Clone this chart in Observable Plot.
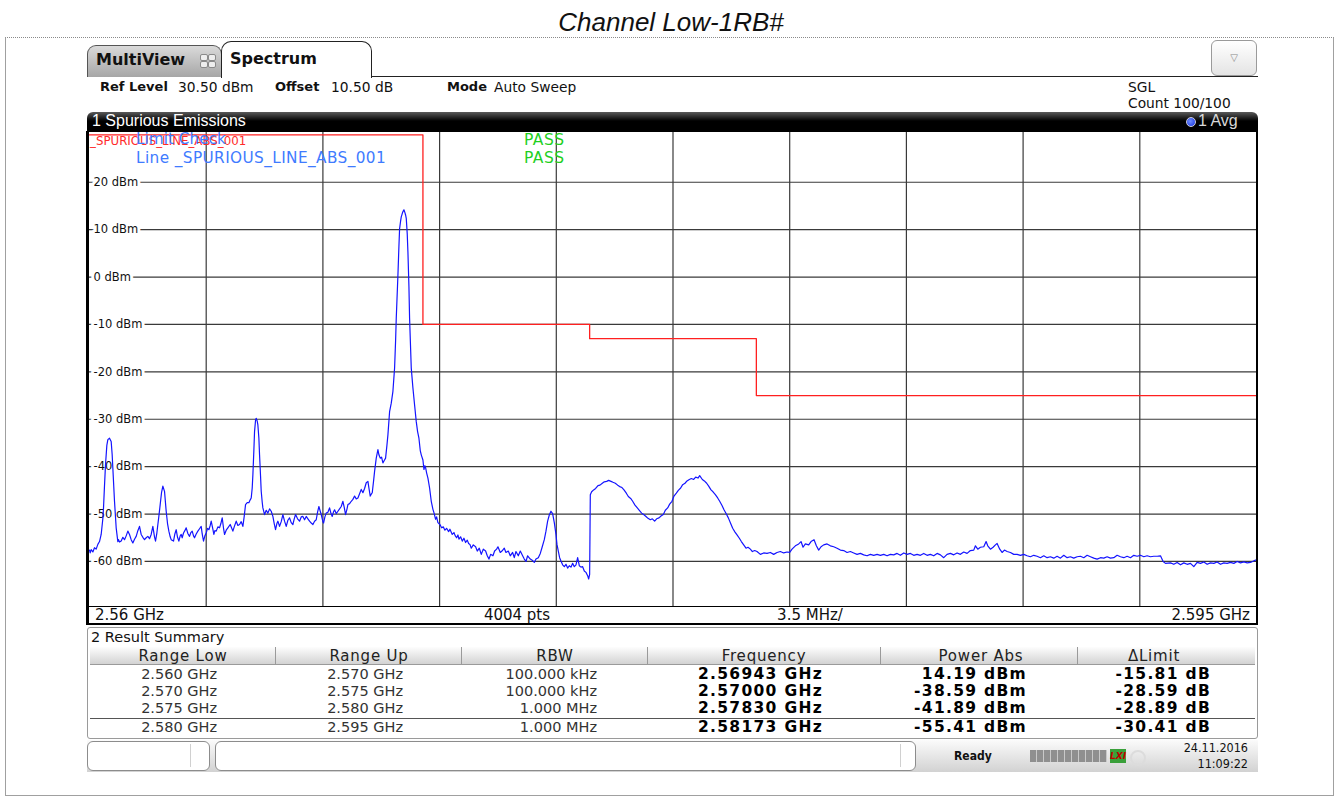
<!DOCTYPE html>
<html>
<head>
<meta charset="utf-8">
<script src="https://cdn.jsdelivr.net/npm/d3@7"></script>
<script src="https://cdn.jsdelivr.net/npm/@observablehq/plot@0.6"></script>
<style>
  body { margin: 0; background: #fff; width: 1338px; height: 798px; position: relative; overflow: hidden; font-family: "DejaVu Sans", sans-serif; color: #111; }
  .a { position: absolute; white-space: nowrap; }
  .t { position: absolute; white-space: nowrap; height: 20px; line-height: 20px; }
  .b { font-weight: bold; }
  .cond { font-family: "DejaVu Sans Condensed", "DejaVu Sans", sans-serif; font-stretch: condensed; }
</style>
</head>
<body>
<script>
// ---- Sweep settings -------------------------------------------------------
const sweepStartMHz = 2560;
const sweepStopMHz = 2595;
const refLevelDbm = 30.5;
const bottomLevelDbm = -69.5;

// Grid divisions (3.5 MHz/div, 10 dB/div)
const xGridMHz = [2563.5, 2567, 2570.5, 2574, 2577.5, 2581, 2584.5, 2588, 2591.5];
const yGridDbm = [20, 10, 0, -10, -20, -30, -40, -50, -60];

// Spurious limit line _SPURIOUS_LINE_ABS_001 (step per range)
const limitFreqMHz = [2560, 2570, 2570, 2575, 2575, 2580, 2580, 2595];
const limitDbm = [30, 30, -10, -10, -13, -13, -25, -25];

// Result summary per range
const rangeLow = ["2.560 GHz", "2.570 GHz", "2.575 GHz", "2.580 GHz"];
const rangeUp = ["2.570 GHz", "2.575 GHz", "2.580 GHz", "2.595 GHz"];
const rbw = ["100.000 kHz", "100.000 kHz", "1.000 MHz", "1.000 MHz"];
const peakFreqGHz = ["2.56943", "2.57000", "2.57830", "2.58173"];
const peakDbm = [14.19, -38.59, -41.89, -55.41];
const rangeLimitDbm = [30, -10, -13, -25];

// Trace 1 (Avg), [MHz, dBm], one list per measurement range
const range1Trace = [[2560.00,-57.6],[2560.02,-58.2],[2560.05,-57.5],[2560.10,-58.0],[2560.15,-57.1],[2560.20,-57.4],[2560.25,-56.4],[2560.30,-55.8],[2560.35,-54.3],[2560.40,-51.0],[2560.42,-48.7],[2560.45,-44.0],[2560.48,-39.6],[2560.52,-35.5],[2560.55,-34.3],[2560.60,-34.0],[2560.65,-34.7],[2560.68,-37.5],[2560.70,-40.3],[2560.75,-47.3],[2560.80,-52.9],[2560.85,-55.8],[2560.87,-55.4],[2560.90,-55.9],[2560.95,-55.7],[2561.00,-54.9],[2561.05,-55.4],[2561.10,-54.6],[2561.15,-53.6],[2561.20,-54.3],[2561.25,-55.4],[2561.30,-56.1],[2561.35,-55.3],[2561.40,-54.7],[2561.45,-53.5],[2561.50,-52.6],[2561.55,-54.3],[2561.60,-54.9],[2561.65,-55.4],[2561.70,-55.0],[2561.75,-54.7],[2561.80,-55.2],[2561.85,-54.3],[2561.90,-52.6],[2561.95,-54.8],[2561.98,-55.7],[2562.02,-54.0],[2562.05,-52.2],[2562.08,-50.5],[2562.12,-48.0],[2562.16,-45.5],[2562.20,-44.1],[2562.25,-45.2],[2562.30,-49.4],[2562.34,-52.0],[2562.38,-53.6],[2562.42,-54.8],[2562.45,-55.4],[2562.52,-55.7],[2562.56,-54.2],[2562.60,-53.3],[2562.64,-54.9],[2562.68,-55.7],[2562.72,-54.6],[2562.75,-54.3],[2562.78,-55.0],[2562.82,-54.0],[2562.86,-53.5],[2562.90,-52.9],[2562.95,-54.1],[2563.00,-54.7],[2563.04,-53.9],[2563.08,-53.6],[2563.12,-54.6],[2563.15,-55.0],[2563.20,-54.2],[2563.25,-53.6],[2563.30,-53.1],[2563.35,-52.6],[2563.38,-54.2],[2563.42,-55.7],[2563.46,-54.6],[2563.50,-54.0],[2563.54,-53.0],[2563.58,-53.3],[2563.62,-52.4],[2563.65,-51.5],[2563.70,-53.2],[2563.73,-54.3],[2563.76,-53.5],[2563.80,-53.6],[2563.85,-52.7],[2563.90,-52.9],[2563.94,-52.0],[2563.98,-50.8],[2564.02,-53.0],[2564.05,-54.3],[2564.10,-53.4],[2564.15,-52.9],[2564.22,-52.2],[2564.26,-52.9],[2564.30,-53.6],[2564.35,-52.5],[2564.40,-51.5],[2564.45,-52.4],[2564.50,-52.2],[2564.55,-51.6],[2564.60,-52.6],[2564.64,-50.5],[2564.68,-48.0],[2564.73,-47.6],[2564.78,-47.6],[2564.82,-47.0],[2564.85,-46.6],[2564.88,-44.5],[2564.90,-41.7],[2564.93,-36.5],[2564.95,-32.6],[2564.98,-30.2],[2565.00,-29.8],[2565.03,-30.4],[2565.05,-31.2],[2565.08,-34.0],[2565.10,-37.5],[2565.13,-42.0],[2565.15,-45.2],[2565.18,-47.5],[2565.20,-48.7],[2565.25,-50.1],[2565.30,-49.2],[2565.35,-49.8],[2565.40,-48.9],[2565.45,-49.4],[2565.50,-50.5],[2565.54,-52.0],[2565.58,-53.3],[2565.62,-52.0],[2565.65,-51.5],[2565.70,-52.6],[2565.75,-51.6],[2565.80,-50.1],[2565.85,-51.5],[2565.90,-52.6],[2565.95,-51.3],[2566.00,-50.8],[2566.05,-51.8],[2566.10,-52.2],[2566.14,-51.0],[2566.18,-50.1],[2566.24,-51.0],[2566.30,-51.5],[2566.35,-50.6],[2566.40,-50.5],[2566.45,-51.2],[2566.50,-50.5],[2566.55,-51.0],[2566.60,-51.5],[2566.65,-51.9],[2566.70,-52.2],[2566.75,-51.5],[2566.80,-51.2],[2566.84,-49.6],[2566.88,-48.4],[2566.92,-49.4],[2566.95,-50.1],[2567.00,-51.6],[2567.02,-51.9],[2567.06,-50.6],[2567.10,-49.8],[2567.15,-49.6],[2567.20,-48.7],[2567.24,-49.8],[2567.28,-50.5],[2567.32,-49.5],[2567.35,-49.1],[2567.40,-49.9],[2567.45,-49.4],[2567.50,-48.9],[2567.55,-48.4],[2567.60,-47.3],[2567.64,-48.6],[2567.68,-50.1],[2567.72,-49.0],[2567.75,-48.0],[2567.80,-47.8],[2567.85,-47.3],[2567.90,-46.9],[2567.95,-46.2],[2568.00,-46.8],[2568.05,-46.6],[2568.10,-45.7],[2568.15,-44.8],[2568.20,-45.5],[2568.25,-44.6],[2568.30,-43.4],[2568.35,-43.1],[2568.38,-44.5],[2568.42,-46.2],[2568.45,-45.8],[2568.48,-45.5],[2568.52,-43.0],[2568.55,-41.0],[2568.60,-38.2],[2568.65,-36.4],[2568.68,-37.5],[2568.72,-38.2],[2568.76,-38.0],[2568.80,-39.2],[2568.84,-38.7],[2568.88,-38.2],[2568.92,-35.5],[2568.95,-33.3],[2569.00,-28.4],[2569.05,-26.6],[2569.10,-24.1],[2569.15,-19.2],[2569.18,-13.5],[2569.20,-8.7],[2569.25,0.4],[2569.28,6.5],[2569.30,10.2],[2569.33,11.8],[2569.35,12.7],[2569.38,13.4],[2569.40,13.8],[2569.43,14.19],[2569.46,13.6],[2569.48,13.1],[2569.50,12.4],[2569.53,9.0],[2569.55,5.3],[2569.58,-2.0],[2569.60,-8.7],[2569.63,-15.0],[2569.65,-19.2],[2569.70,-23.4],[2569.75,-27.0],[2569.80,-30.5],[2569.84,-32.6],[2569.88,-34.0],[2569.92,-36.6],[2569.95,-37.5]];

const range2Trace = [[2570.00,-38.59],[2570.03,-40.6],[2570.06,-39.8],[2570.08,-40.2],[2570.11,-41.3],[2570.15,-42.4],[2570.20,-44.5],[2570.25,-47.3],[2570.30,-49.0],[2570.33,-49.7],[2570.38,-51.1],[2570.41,-50.6],[2570.45,-51.8],[2570.51,-52.2],[2570.56,-52.9],[2570.61,-52.7],[2570.66,-53.4],[2570.71,-53.0],[2570.77,-53.7],[2570.81,-53.2],[2570.88,-54.3],[2570.93,-53.9],[2570.97,-54.6],[2571.01,-55.0],[2571.05,-54.4],[2571.08,-55.3],[2571.13,-54.8],[2571.18,-55.7],[2571.23,-55.1],[2571.28,-56.0],[2571.33,-55.5],[2571.37,-56.2],[2571.41,-56.4],[2571.45,-57.2],[2571.51,-56.5],[2571.58,-56.9],[2571.63,-57.8],[2571.69,-57.2],[2571.75,-58.5],[2571.81,-57.4],[2571.88,-57.8],[2571.93,-58.8],[2571.98,-59.5],[2572.03,-58.5],[2572.10,-58.8],[2572.15,-57.8],[2572.21,-57.4],[2572.25,-56.9],[2572.32,-58.1],[2572.37,-57.8],[2572.44,-57.2],[2572.49,-58.1],[2572.56,-57.8],[2572.62,-58.8],[2572.69,-58.1],[2572.74,-59.2],[2572.79,-57.9],[2572.86,-58.8],[2572.92,-57.8],[2572.99,-58.8],[2573.04,-59.5],[2573.09,-60.0],[2573.14,-58.8],[2573.22,-59.5],[2573.29,-59.8],[2573.34,-60.2],[2573.39,-59.5],[2573.46,-59.2],[2573.52,-58.3],[2573.57,-57.1],[2573.64,-55.4],[2573.69,-53.6],[2573.74,-51.5],[2573.79,-50.2],[2573.84,-49.4],[2573.89,-49.9],[2573.94,-51.8],[2573.99,-54.3],[2574.02,-56.4],[2574.06,-57.8],[2574.10,-59.2],[2574.14,-59.9],[2574.19,-60.7],[2574.24,-61.1],[2574.29,-60.6],[2574.34,-61.4],[2574.39,-60.9],[2574.44,-61.2],[2574.49,-60.4],[2574.54,-61.1],[2574.59,-60.7],[2574.64,-59.2],[2574.69,-60.9],[2574.74,-61.2],[2574.79,-61.1],[2574.84,-62.0],[2574.89,-62.3],[2574.94,-63.0],[2574.97,-63.7],[2575.00,-62.7]];

const range3Trace = [[2575.02,-45.9],[2575.06,-45.3],[2575.12,-44.9],[2575.18,-44.6],[2575.25,-44.0],[2575.31,-43.9],[2575.38,-43.5],[2575.44,-43.2],[2575.51,-43.1],[2575.57,-42.9],[2575.64,-43.1],[2575.70,-43.3],[2575.77,-43.5],[2575.84,-43.9],[2575.90,-44.2],[2575.97,-44.4],[2576.03,-44.9],[2576.10,-45.6],[2576.16,-46.3],[2576.23,-46.7],[2576.29,-47.3],[2576.36,-48.1],[2576.43,-48.7],[2576.49,-49.2],[2576.56,-49.8],[2576.62,-50.1],[2576.69,-50.5],[2576.75,-50.9],[2576.82,-51.2],[2576.88,-51.0],[2576.95,-51.5],[2577.01,-51.0],[2577.08,-50.8],[2577.14,-50.4],[2577.21,-50.1],[2577.27,-49.2],[2577.34,-48.7],[2577.40,-47.9],[2577.47,-47.3],[2577.53,-46.2],[2577.60,-45.6],[2577.66,-45.0],[2577.73,-44.5],[2577.79,-43.8],[2577.86,-43.5],[2577.92,-43.0],[2577.99,-42.7],[2578.05,-42.5],[2578.12,-42.7],[2578.18,-42.2],[2578.25,-42.4],[2578.30,-41.89],[2578.38,-42.7],[2578.44,-43.0],[2578.51,-43.5],[2578.57,-44.1],[2578.64,-44.9],[2578.70,-45.3],[2578.77,-45.9],[2578.84,-46.6],[2578.90,-47.3],[2578.97,-48.2],[2579.03,-49.1],[2579.10,-50.0],[2579.16,-50.8],[2579.23,-52.0],[2579.29,-53.0],[2579.36,-53.8],[2579.42,-54.4],[2579.49,-55.1],[2579.55,-55.8],[2579.62,-56.5],[2579.69,-57.2],[2579.75,-57.0],[2579.82,-57.4],[2579.88,-57.9],[2579.95,-57.7]];

const range4Trace = [[2580.02,-57.9],[2580.12,-58.5],[2580.22,-58.2],[2580.32,-58.3],[2580.42,-58.1],[2580.52,-58.5],[2580.62,-58.1],[2580.72,-57.9],[2580.82,-58.2],[2580.92,-58.0],[2581.00,-58.1],[2581.07,-57.4],[2581.17,-56.7],[2581.27,-56.3],[2581.34,-55.8],[2581.40,-57.0],[2581.47,-56.3],[2581.57,-56.5],[2581.64,-55.8],[2581.73,-55.41],[2581.80,-56.7],[2581.87,-57.6],[2581.94,-56.9],[2582.02,-56.5],[2582.12,-56.3],[2582.22,-56.7],[2582.32,-56.9],[2582.42,-57.2],[2582.52,-57.6],[2582.62,-57.7],[2582.72,-58.1],[2582.82,-57.9],[2582.92,-58.2],[2583.02,-58.5],[2583.12,-58.3],[2583.22,-58.6],[2583.32,-58.8],[2583.42,-58.5],[2583.52,-58.7],[2583.62,-58.5],[2583.72,-58.7],[2583.82,-58.5],[2583.92,-58.8],[2584.02,-58.5],[2584.12,-58.6],[2584.22,-58.3],[2584.32,-58.7],[2584.42,-58.2],[2584.52,-58.5],[2584.62,-58.3],[2584.72,-58.7],[2584.82,-58.5],[2584.92,-58.7],[2585.02,-58.3],[2585.12,-58.7],[2585.22,-58.5],[2585.32,-58.8],[2585.42,-58.3],[2585.52,-58.6],[2585.62,-59.2],[2585.72,-58.5],[2585.82,-58.3],[2585.92,-58.6],[2586.02,-58.2],[2586.12,-58.5],[2586.22,-58.0],[2586.32,-58.3],[2586.42,-57.7],[2586.52,-57.6],[2586.57,-56.7],[2586.64,-57.4],[2586.72,-57.0],[2586.82,-56.9],[2586.89,-55.8],[2586.94,-56.7],[2587.02,-57.4],[2587.10,-57.0],[2587.17,-56.5],[2587.22,-56.2],[2587.30,-57.4],[2587.37,-58.1],[2587.44,-57.6],[2587.52,-57.9],[2587.62,-58.1],[2587.72,-58.5],[2587.82,-58.5],[2587.92,-58.7],[2588.02,-58.5],[2588.12,-58.8],[2588.22,-59.0],[2588.32,-58.7],[2588.42,-58.9],[2588.52,-59.2],[2588.62,-58.8],[2588.72,-59.2],[2588.82,-59.0],[2588.92,-59.3],[2589.02,-58.9],[2589.12,-59.3],[2589.22,-58.7],[2589.32,-59.2],[2589.42,-59.0],[2589.52,-59.3],[2589.62,-59.0],[2589.72,-58.9],[2589.82,-59.2],[2589.92,-58.7],[2590.02,-59.0],[2590.12,-59.3],[2590.22,-59.5],[2590.32,-59.2],[2590.42,-59.3],[2590.52,-59.0],[2590.62,-59.3],[2590.72,-59.2],[2590.82,-58.7],[2590.92,-59.0],[2591.02,-59.2],[2591.12,-58.9],[2591.22,-59.2],[2591.32,-58.7],[2591.42,-58.9],[2591.52,-58.7],[2591.62,-59.0],[2591.72,-58.8],[2591.82,-59.0],[2591.92,-58.9],[2592.02,-58.9],[2592.12,-58.8],[2592.20,-60.0],[2592.27,-60.4],[2592.42,-60.3],[2592.52,-60.6],[2592.62,-60.2],[2592.72,-60.7],[2592.82,-60.3],[2592.92,-60.6],[2593.02,-60.4],[2593.12,-61.1],[2593.22,-60.2],[2593.32,-60.4],[2593.42,-60.1],[2593.52,-60.6],[2593.62,-60.3],[2593.72,-60.4],[2593.82,-60.1],[2593.92,-60.6],[2594.02,-60.3],[2594.12,-60.4],[2594.22,-60.2],[2594.32,-60.4],[2594.42,-60.0],[2594.52,-60.3],[2594.62,-60.1],[2594.72,-60.3],[2594.82,-60.2],[2594.97,-59.7],[2595.00,-59.8]];
</script>

<!-- outer frame and title -->
<div class="a" style="left:5px;top:37px;width:1327px;height:757px;border:1px solid #a0a0a0;border-top:1px dotted #8a8a8a;"></div>
<div class="a" style="left:0;top:6px;width:1342px;text-align:center;font:italic 26px 'Liberation Sans',Arial,sans-serif;line-height:32px;color:#111;">Channel Low-1RB#</div>

<!-- tabs -->
<div class="a" style="left:87px;top:76px;width:1171px;height:1px;background:#222;"></div>
<div class="a" style="left:87px;top:45px;width:133px;height:31px;background:linear-gradient(#dadada,#a6a6a6);border:1px solid #555;border-bottom:none;border-radius:9px 9px 0 0;"></div>
<div class="t b" style="left:96px;top:50px;font-size:16px;">MultiView</div>
<div class="a" style="left:200px;top:54px;width:6px;height:5px;border:1px solid #8a8a8a;border-radius:2px;background:#eee;"></div>
<div class="a" style="left:208px;top:54px;width:6px;height:5px;border:1px solid #8a8a8a;border-radius:2px;background:#eee;"></div>
<div class="a" style="left:200px;top:61px;width:6px;height:5px;border:1px solid #8a8a8a;border-radius:2px;background:#eee;"></div>
<div class="a" style="left:208px;top:61px;width:6px;height:5px;border:1px solid #8a8a8a;border-radius:2px;background:#eee;"></div>
<div class="a" style="left:221px;top:41px;width:149px;height:36px;background:#fff;border:1.5px solid #222;border-bottom:none;border-radius:10px 10px 0 0;"></div>
<div class="t b" style="left:230px;top:49px;font-size:16px;">Spectrum</div>
<div class="a" style="left:1211px;top:40px;width:44px;height:34px;border:1px solid #9a9a9a;border-radius:6px;background:linear-gradient(#ffffff,#e4e4e4);text-align:center;line-height:34px;font-size:10px;color:#888;">&#9661;</div>

<!-- settings row -->
<div class="t b" style="left:100px;top:77px;font-size:13px;">Ref Level</div>
<div class="t" style="left:178px;top:77px;font-size:13.8px;">30.50 dBm</div>
<div class="t b" style="left:275px;top:77px;font-size:13px;">Offset</div>
<div class="t" style="left:331px;top:77px;font-size:13.8px;">10.50 dB</div>
<div class="t b" style="left:447px;top:77px;font-size:13px;">Mode</div>
<div class="t" style="left:494px;top:77px;font-size:13.8px;">Auto Sweep</div>
<div class="t" style="left:1128px;top:77px;font-size:13.8px;">SGL</div>
<div class="t" style="left:1128px;top:93px;font-size:13.8px;">Count 100/100</div>

<!-- diagram title bar -->
<div class="a" style="left:87px;top:112px;width:1171px;height:20px;background:linear-gradient(#5a5a5a,#000 45%);border-radius:6px 6px 0 0;"></div>
<div class="t" style="left:92px;top:111px;font:16px 'Liberation Sans',Arial,sans-serif;line-height:20px;color:#fff;">1 Spurious Emissions</div>
<div class="a" style="left:1186px;top:117px;width:8px;height:8px;border-radius:50%;background:radial-gradient(circle at 40% 40%,#6f8cff,#1030e0);border:1px solid #ccd;"></div>
<div class="t" style="left:1198px;top:111px;font:16px 'Liberation Sans',Arial,sans-serif;line-height:20px;color:#d8d8d8;">1 Avg</div>

<!-- plot borders and frequency strip -->
<div id="plot" class="a" style="left:89px;top:132px;"></div>
<div class="a" style="left:86px;top:131px;width:3px;height:494px;background:#000;"></div>
<div class="a" style="left:1256px;top:131px;width:2px;height:494px;background:#000;"></div>
<div class="a" style="left:86px;top:606px;width:1172px;height:1px;background:#000;"></div>
<div class="a" style="left:86px;top:623px;width:1172px;height:2px;background:#000;"></div>
<div class="t" style="left:95px;top:605px;font-size:15px;">2.56 GHz</div>
<div class="t" style="left:417px;width:200px;text-align:center;top:605px;font-size:15px;">4004 pts</div>
<div class="t" style="left:710px;width:200px;text-align:center;top:605px;font-size:15px;">3.5 MHz/</div>
<div class="t" style="left:1000px;width:250px;text-align:right;top:605px;font-size:15px;">2.595 GHz</div>

<!-- limit check legend -->
<div class="t" style="left:90px;top:131px;font-size:11.8px;color:#ff2a2a;">_SPURIOUS_LINE_ABS_001</div>
<div class="t" style="left:136px;top:129px;font-size:15.3px;color:#3f7bff;">Limit Check</div>
<div class="t" style="left:136px;top:148px;font-size:15.3px;letter-spacing:0.4px;color:#3f7bff;">Line _SPURIOUS_LINE_ABS_001</div>
<div class="t" style="left:524px;top:130px;font-size:15.5px;letter-spacing:0.5px;color:#1fd01f;">PASS</div>
<div class="t" style="left:524px;top:148px;font-size:15.5px;letter-spacing:0.5px;color:#1fd01f;">PASS</div>

<!-- result summary -->
<div class="a" style="left:87px;top:627px;width:1169px;height:110px;border:1px solid #9a9a9a;border-radius:3px;"></div>
<div class="t" style="left:91px;top:627px;font-size:14.5px;">2 Result Summary</div>
<div id="table"></div>

<!-- status bar -->
<div class="a" style="left:87px;top:740px;width:1171px;height:32px;background:linear-gradient(#fbfbfb,#d2d2d2);"></div>
<div class="a" style="left:87px;top:741px;width:121px;height:28px;background:#fff;border:1px solid #8c8c8c;border-radius:6px;"></div>
<div class="a" style="left:190px;top:744px;width:1px;height:23px;background:#d0d0d0;"></div>
<div class="a" style="left:215px;top:741px;width:699px;height:28px;background:#fff;border:1px solid #8c8c8c;border-radius:6px;"></div>
<div class="a" style="left:900px;top:744px;width:1px;height:23px;background:#d0d0d0;"></div>
<div class="t b cond" style="left:954px;top:746px;font-size:12px;">Ready</div>
<div class="a" style="left:1030px;top:750px;width:77px;height:12px;background:repeating-linear-gradient(90deg,#8f8f8f 0 6px,#c9c9c9 6px 7px);"></div>
<div class="a" style="left:1110px;top:749px;width:16px;height:14px;background:#3aa03a;color:#c00000;font:italic bold 9px 'DejaVu Sans';line-height:14px;text-align:center;">LXI</div>
<div class="a" style="left:1130px;top:750px;width:12px;height:12px;border-radius:50%;border:2px solid #dcdcdc;"></div>
<div class="t cond" style="left:1100px;width:148px;text-align:right;top:738px;font-size:12.5px;">24.11.2016</div>
<div class="t cond" style="left:1100px;width:148px;text-align:right;top:754px;font-size:12.5px;">11:09:22</div>

<script>
// ---- Spectrum diagram -----------------------------------------------------
const trace = [...range1Trace, ...range2Trace, ...range3Trace, ...range4Trace]
  .map(([f, db]) => ({f, db}));
const limitLine = limitFreqMHz.map((f, i) => ({f, db: limitDbm[i]}));

const chart = Plot.plot({
  width: 1167,
  height: 474,
  margin: 0,
  style: {background: "#fff", fontFamily: "DejaVu Sans, sans-serif", overflow: "hidden"},
  x: {domain: [sweepStartMHz, sweepStopMHz], axis: null},
  y: {domain: [bottomLevelDbm, refLevelDbm], axis: null},
  marks: [
    Plot.ruleX(xGridMHz, {stroke: "#3a3a3a", strokeWidth: 1.2}),
    Plot.ruleY(yGridDbm, {stroke: "#3a3a3a", strokeWidth: 1.2}),
    Plot.text(yGridDbm, {
      y: d => d, frameAnchor: "left", dx: 4, textAnchor: "start",
      text: d => `${d} dBm`, fontSize: 11.5, fill: "#111",
      stroke: "#fff", strokeWidth: 6
    }),
    Plot.line(limitLine, {x: "f", y: "db", stroke: "#ff2020", strokeWidth: 1.3, clip: true}),
    Plot.line(trace, {x: "f", y: "db", stroke: "#1414ff", strokeWidth: 1.2, clip: true})
  ]
});
document.getElementById("plot").appendChild(chart);

// ---- Result summary table -------------------------------------------------
const colEdges = [90, 276, 462, 648, 881, 1078, 1255];
const headers = ["Range Low", "Range Up", "RBW", "Frequency", "Power Abs", "\u0394Limit"];
const headerCenters = [183, 369, 555, 764, 981, 1154];
const valueRight = [217, 403, 597, 823, 1027, 1211];
const rowCenters = [674, 691, 708, 727];

const table = document.getElementById("table");
function add(html, style) {
  const d = document.createElement("div");
  d.className = "a";
  d.style.cssText = style;
  d.innerHTML = html;
  table.appendChild(d);
}
// header cells
for (let i = 0; i < 6; i++) {
  add("", `left:${colEdges[i]}px;top:647px;width:${colEdges[i + 1] - colEdges[i]}px;height:18px;` +
    `background:linear-gradient(#fdfdfd,#d3d3d3);border-bottom:1px solid #9a9a9a;` +
    (i < 5 ? "border-right:1px solid #9a9a9a;box-sizing:border-box;" : "box-sizing:border-box;"));
  add(headers[i], `left:${headerCenters[i] - 100}px;width:200px;text-align:center;top:646px;height:20px;line-height:20px;font-size:15px;letter-spacing:0.8px;color:#222;`);
}
// row separator above the last range
add("", "left:90px;top:718px;width:1165px;height:1px;background:#555;");

const fmt = v => v.toFixed(2);
for (let r = 0; r < 4; r++) {
  const cells = [
    rangeLow[r], rangeUp[r], rbw[r],
    `${peakFreqGHz[r]} GHz`,
    `${fmt(peakDbm[r])} dBm`,
    `${fmt(peakDbm[r] - rangeLimitDbm[r])} dB`
  ];
  for (let c = 0; c < 6; c++) {
    const bold = c >= 3;
    add(cells[c],
      `left:${valueRight[c] - 300}px;width:300px;text-align:right;top:${rowCenters[r] - 10}px;height:20px;line-height:20px;` +
      (bold ? "font-weight:bold;font-size:15.5px;letter-spacing:1.3px;color:#000;" : "font-size:14.5px;color:#333;"));
  }
}
</script>
</body>
</html>
